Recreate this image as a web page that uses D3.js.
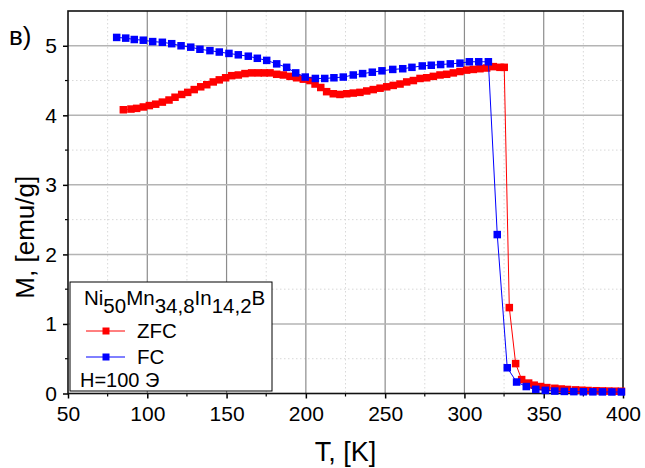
<!DOCTYPE html>
<html>
<head>
<meta charset="utf-8">
<script src="https://cdn.jsdelivr.net/npm/d3@7"></script>
<style>
  html, body { margin: 0; padding: 0; background: #fff; }
  svg text { font-family: "Liberation Sans", Arial, sans-serif; fill: #000; }
</style>
</head>
<body>
<svg id="chart" width="645" height="468"></svg>
<script>
// Temperature (K) and magnetisation (emu/g) for the zero-field-cooled run
const zfcT = [84.9, 89.7, 93.3, 97.5, 101.3, 105.3, 109.5, 113.7, 117.5, 121.7, 125.5, 129.6, 133.7, 137.5, 141.6, 145.4, 149.4, 153.2, 157.4, 161.6, 165.8, 170.0, 173.8, 177.4, 181.6, 185.8, 190.0, 194.2, 198.4, 202.6, 205.8, 209.4, 213.1, 217.3, 221.5, 225.8, 229.9, 234.1, 238.4, 242.5, 246.8, 251.0, 255.1, 259.4, 263.6, 267.8, 272.0, 276.2, 280.4, 284.6, 288.8, 293.0, 297.2, 301.4, 305.6, 309.8, 314.0, 318.2, 322.4, 325.1, 328.3, 332.3, 336.1, 340.5, 344, 348, 352, 357, 361, 365, 370, 374, 378, 383, 387, 391, 395, 399];
const zfcM = [4.08, 4.09, 4.10, 4.12, 4.14, 4.16, 4.19, 4.22, 4.26, 4.30, 4.33, 4.37, 4.41, 4.44, 4.48, 4.51, 4.54, 4.57, 4.58, 4.60, 4.61, 4.61, 4.61, 4.61, 4.59, 4.58, 4.56, 4.54, 4.52, 4.50, 4.45, 4.40, 4.34, 4.31, 4.30, 4.31, 4.32, 4.33, 4.35, 4.37, 4.39, 4.41, 4.43, 4.45, 4.48, 4.50, 4.53, 4.54, 4.56, 4.58, 4.59, 4.61, 4.63, 4.65, 4.66, 4.67, 4.68, 4.70, 4.69, 4.69, 1.235, 0.43, 0.20, 0.15, 0.12, 0.10, 0.085, 0.075, 0.065, 0.058, 0.052, 0.047, 0.043, 0.04, 0.037, 0.035, 0.033, 0.032];

// Field-cooled run
const fcT = [80.7, 86.4, 91.8, 97.5, 103.4, 109.5, 115.4, 121.3, 127.4, 133.2, 139.5, 145.4, 151.5, 157.4, 163.7, 169.4, 175.3, 181.6, 187.9, 193.6, 199.6, 206.0, 211.9, 217.7, 223.6, 229.9, 235.8, 241.9, 248.0, 254.8, 261.1, 266.9, 273.4, 279.1, 285.0, 291.1, 297.2, 303.1, 309.0, 315.1, 320.7, 327.0, 332.9, 339.0, 345.0, 351, 357, 363, 369, 375, 381, 387, 393, 399];
const fcM = [5.12, 5.11, 5.09, 5.08, 5.06, 5.05, 5.03, 5.00, 4.98, 4.95, 4.93, 4.91, 4.89, 4.87, 4.85, 4.82, 4.79, 4.74, 4.69, 4.61, 4.55, 4.53, 4.53, 4.54, 4.55, 4.58, 4.60, 4.62, 4.64, 4.66, 4.67, 4.69, 4.71, 4.72, 4.73, 4.74, 4.75, 4.77, 4.77, 4.77, 2.285, 0.37, 0.165, 0.10, 0.06, 0.045, 0.035, 0.03, 0.027, 0.025, 0.024, 0.023, 0.022, 0.022];

const xTicks = [50, 100, 150, 200, 250, 300, 350, 400];
const yTicks = [0, 1, 2, 3, 4, 5];
const seriesNames = ["ZFC", "FC"];
const seriesColors = ["#ff0000", "#0000ff"];

const svg = d3.select("#chart");
const pL = 68, pR = 623, pT = 11, pB = 393.5;

const x = d3.scaleLinear().domain([50, 400]).range([pL, pR]);
const y = d3.scaleLinear().domain([0, 5.5]).range([pB, pT]);

const xMinor = d3.range(75, 400, 50);
const yMinor = d3.range(0.5, 5.5, 1);

// grid
const grid = svg.append("g");
grid.selectAll(".vminor").data(xMinor).join("line")
  .attr("x1", d => x(d)).attr("x2", d => x(d)).attr("y1", pT).attr("y2", pB)
  .attr("stroke", "#d8d8d8").attr("stroke-width", 1).attr("stroke-dasharray", "1.5,2.5");
grid.selectAll(".hminor").data(yMinor).join("line")
  .attr("x1", pL).attr("x2", pR).attr("y1", d => y(d)).attr("y2", d => y(d))
  .attr("stroke", "#d8d8d8").attr("stroke-width", 1).attr("stroke-dasharray", "1.5,2.5");
grid.selectAll(".vmajor").data(xTicks.slice(1, -1)).join("line")
  .attr("x1", d => x(d)).attr("x2", d => x(d)).attr("y1", pT).attr("y2", pB)
  .attr("stroke", "#8c8c8c").attr("stroke-width", 1.2);
grid.selectAll(".hmajor").data(yTicks.slice(1)).join("line")
  .attr("x1", pL).attr("x2", pR).attr("y1", d => y(d)).attr("y2", d => y(d))
  .attr("stroke", "#b4b4b4").attr("stroke-width", 1.5);

// axes
const xAxis = d3.axisBottom(x).tickValues(xTicks).tickSize(5).tickPadding(8).tickFormat(d3.format("d"));
const gx = svg.append("g").attr("transform", `translate(0,${pB})`).call(xAxis);
gx.select(".domain").remove();
gx.selectAll(".tick line").attr("stroke", "#000").attr("stroke-width", 1.5);
gx.selectAll(".tick text").attr("font-size", 21).attr("font-family", "Liberation Sans, Arial, sans-serif");
svg.append("g").selectAll("line").data(xMinor).join("line")
  .attr("x1", d => x(d)).attr("x2", d => x(d)).attr("y1", pB).attr("y2", pB + 3)
  .attr("stroke", "#000").attr("stroke-width", 1.2);

const yAxis = d3.axisLeft(y).tickValues(yTicks).tickSize(5).tickPadding(6).tickFormat(d3.format("d"));
const gy = svg.append("g").attr("transform", `translate(${pL},0)`).call(yAxis);
gy.select(".domain").remove();
gy.selectAll(".tick line").attr("stroke", "#000").attr("stroke-width", 1.5);
gy.selectAll(".tick text").attr("font-size", 21).attr("font-family", "Liberation Sans, Arial, sans-serif");
svg.append("g").selectAll("line").data(yMinor).join("line")
  .attr("x1", pL - 3).attr("x2", pL).attr("y1", d => y(d)).attr("y2", d => y(d))
  .attr("stroke", "#000").attr("stroke-width", 1.2);

// frame
svg.append("rect").attr("x", pL).attr("y", pT).attr("width", pR - pL).attr("height", pB - pT)
  .attr("fill", "none").attr("stroke", "#111").attr("stroke-width", 1.6);

// series
const series = [
  { name: seriesNames[0], color: seriesColors[0], pts: zfcT.map((t, i) => [t, zfcM[i]]) },
  { name: seriesNames[1], color: seriesColors[1], pts: fcT.map((t, i) => [t, fcM[i]]) }
];
const line = d3.line().x(d => x(d[0])).y(d => y(d[1]));
const ms = 7.5;
series.forEach(s => {
  const g = svg.append("g");
  g.append("path").datum(s.pts).attr("d", line).attr("fill", "none")
    .attr("stroke", s.color).attr("stroke-width", 1);
  g.selectAll("rect").data(s.pts).join("rect")
    .attr("x", d => x(d[0]) - ms / 2).attr("y", d => y(d[1]) - ms / 2)
    .attr("width", ms).attr("height", ms).attr("fill", s.color);
});

// legend
const lg = svg.append("g");
lg.append("rect").attr("x", 70).attr("y", 282).attr("width", 202).attr("height", 109)
  .attr("fill", "#fff").attr("stroke", "#000").attr("stroke-width", 1);
const title = lg.append("text").attr("x", 84).attr("y", 305).attr("font-size", 20.5);
[["Ni", 0], ["50", 8], ["Mn", -8], ["34,8", 8], ["In", -8], ["14,2", 8], ["B", -8]].forEach(([t, dy]) => {
  title.append("tspan").attr("dy", dy).text(t);
});
series.forEach((s, i) => {
  const ly = 331 + i * 26;
  lg.append("line").attr("x1", 86).attr("x2", 125).attr("y1", ly).attr("y2", ly)
    .attr("stroke", s.color).attr("stroke-width", 1);
  lg.append("rect").attr("x", 106 - 3.5).attr("y", ly - 3.5).attr("width", 7).attr("height", 7)
    .attr("fill", s.color);
  lg.append("text").attr("x", 137).attr("y", ly + 7).attr("font-size", 20.5).text(s.name);
});
lg.append("text").attr("x", 80).attr("y", 387).attr("font-size", 20).text("H=100 Э");

// axis titles
svg.append("text").attr("x", x(225)).attr("y", 461).attr("text-anchor", "middle")
  .attr("font-size", 27).text("T, [K]");
svg.append("text").attr("transform", `translate(34,${(pT + pB) / 2 + 35}) rotate(-90)`)
  .attr("text-anchor", "middle").attr("font-size", 26).text("M, [emu/g]");

// panel label
svg.append("text").attr("x", 9).attr("y", 45).attr("font-size", 26).text("в)");
</script>
</body>
</html>
